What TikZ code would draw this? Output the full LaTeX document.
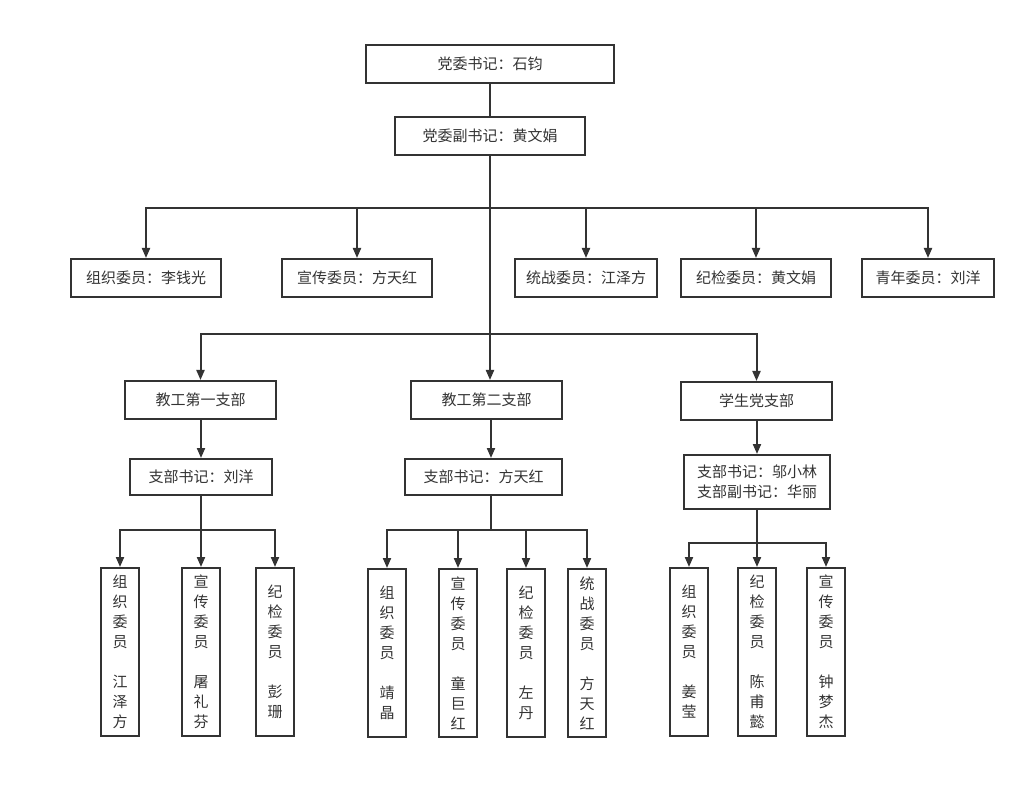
\documentclass[tikz,border=0pt]{standalone}
\usepackage{fontspec}
\setmainfont{Noto Sans CJK SC}
\usepackage{xcolor}
\usetikzlibrary{arrows.meta}
\definecolor{ink}{HTML}{333333}

\begin{document}
\begin{tikzpicture}[x=1pt,y=-1pt,
	box/.style={draw=ink,line width=2pt,text=ink,inner sep=0pt,font=\fontsize{15}{20}\selectfont},
	wide/.style={box,minimum width=#1,minimum height=38},
	tall/.style={box,minimum width=38,minimum height=168,align=center},
	link/.style={draw=ink,line width=2pt},
	arr/.style={link,-{Triangle[length=10pt,width=8pt]}}]
		\useasboundingbox (0,0) rectangle (1020,799);
		%Party committee
			\node[wide=248] (sec) at (490,64) {党委书记：石钧};
			\node[wide=190] (vice) at (490,136) {党委副书记：黄文娟};
		%Committee members
			\node[wide=150] (w1) at (146,278) {组织委员：李钱光};
			\node[wide=150] (w2) at (357,278) {宣传委员：方天红};
			\node[wide=142] (w3) at (586,278) {统战委员：江泽方};
			\node[wide=150] (w4) at (756,278) {纪检委员：黄文娟};
			\node[wide=132] (w5) at (928,278) {青年委员：刘洋};
		%Branches
			\node[wide=151] (b1) at (200.5,400) {教工第一支部};
			\node[wide=151] (b2) at (486.5,400) {教工第二支部};
			\node[wide=151] (b3) at (756.5,401) {学生党支部};
		%Branch secretaries
			\node[wide=142,minimum height=36] (s1) at (201,477) {支部书记：刘洋};
			\node[wide=157,minimum height=36] (s2) at (483.5,477) {支部书记：方天红};
			\node[wide=146,minimum height=54,align=left] (s3) at (757,482) {支部书记：邬小林\\支部副书记：华丽};
		%Branch members
			\foreach \i/\x/\t in {1/120/{组\\织\\委\\员\\[20pt]江\\泽\\方},2/201/{宣\\传\\委\\员\\[20pt]屠\\礼\\芬},3/275/{纪\\检\\委\\员\\[20pt]彭\\珊}}
			{
				\node[tall] (a\i) at (\x,652) {\t};
			}
			\foreach \i/\x/\t in {1/387/{组\\织\\委\\员\\[20pt]靖\\晶},2/458/{宣\\传\\委\\员\\[20pt]童\\巨\\红},3/526/{纪\\检\\委\\员\\[20pt]左\\丹},4/587/{统\\战\\委\\员\\[20pt]方\\天\\红}}
			{
				\node[tall] (c\i) at (\x,653) {\t};
			}
			\foreach \i/\x/\t in {1/689/{组\\织\\委\\员\\[20pt]姜\\莹},2/757/{纪\\检\\委\\员\\[20pt]陈\\甫\\懿},3/826/{宣\\传\\委\\员\\[20pt]钟\\梦\\杰}}
			{
				\node[tall] (d\i) at (\x,652) {\t};
			}
		%Top connectors
			\coordinate (j0) at (490,208);
			\coordinate (j1) at (490,334);
			\draw[link] (sec) -- (vice);
			\draw[link] (vice) -- (j0) -- (j1);
			\foreach \n in {w1,w2,w3,w4,w5}
			{
				\draw[arr] (j0) -| (\n.north);
			}
			\draw[arr] (j1) -| (b1.north);
			\draw[arr] (j1) -- (j1 |- b2.north);
			\draw[arr] (j1) -| (b3.north);
		%Group connectors
			\coordinate (g1) at (201,530);
			\coordinate (g2) at (491,530);
			\coordinate (g3) at (757,543);
			\draw[arr] (b1.south -| g1) -- (s1);
			\draw[arr] (b2.south -| g2) -- (s2.north -| g2);
			\draw[arr] (b3.south -| g3) -- (s3.north -| g3);
			\draw[link] (s1) -- (g1);
			\draw[link] (s2.south -| g2) -- (g2);
			\draw[link] (s3.south -| g3) -- (g3);
			\foreach \i in {1,2,3}
			{
				\draw[arr] (g1) -| (a\i.north);
				\draw[arr] (g3) -| (d\i.north);
			}
			\foreach \i in {1,2,3,4}
			{
				\draw[arr] (g2) -| (c\i.north);
			}
	\end{tikzpicture}
\end{document}
